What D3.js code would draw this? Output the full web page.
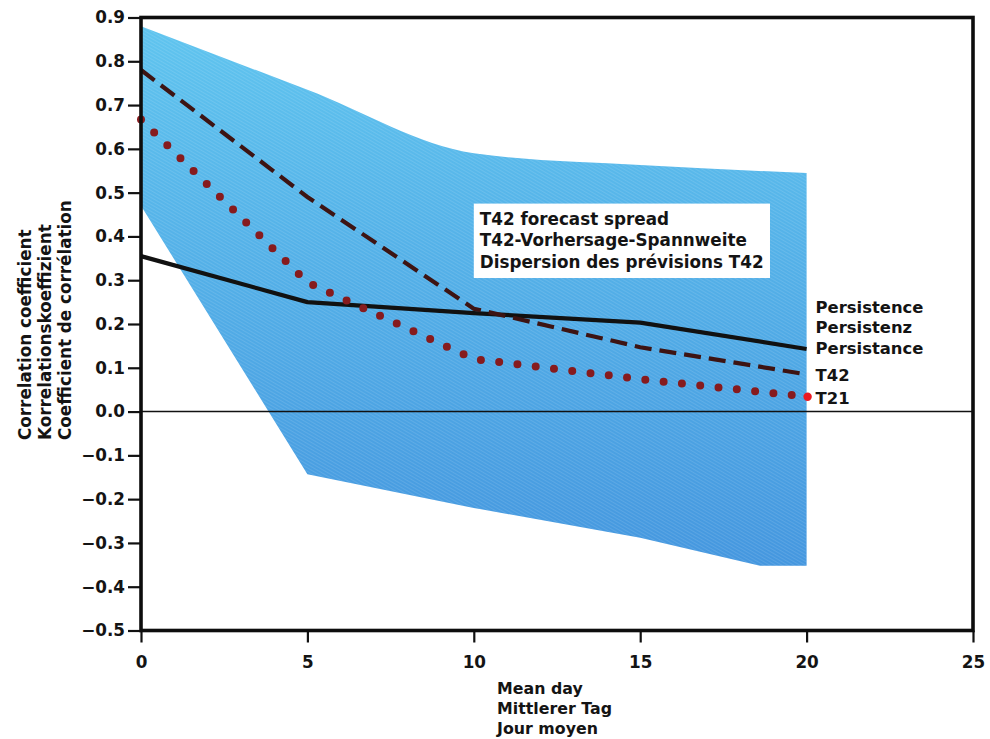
<!DOCTYPE html>
<html>
<head>
<meta charset="utf-8">
<script src="https://cdn.jsdelivr.net/npm/d3@7"></script>
<style>
  html, body { margin: 0; padding: 0; background: #ffffff; }
  svg { display: block; }
  text { font-family: "DejaVu Sans", "Liberation Sans", Arial, sans-serif; font-weight: bold; fill: #141414; }
</style>
</head>
<body>
<svg id="chart" width="990" height="739"></svg>
<script>
// Mean forecast day
const days = [0, 5, 10, 15, 20];
// Correlation coefficient per model
const persistence = [0.355, 0.25, 0.225, 0.203, 0.143];
const t42 = [0.78, 0.49, 0.235, 0.147, 0.085];
const t21 = [0.667, 0.295, 0.12, 0.074, 0.034];
// T42 forecast spread (upper and lower envelope)
const spreadHighDays = [0, 5, 10, 15, 20];
const spreadHigh = [0.88, 0.735, 0.59, 0.563, 0.545];
const spreadLowDays = [0, 5, 10, 15, 18.6, 20];
const spreadLow = [0.47, -0.143, -0.22, -0.288, -0.352, -0.352];
// Axis ticks and labels
const xTickValues = [0, 5, 10, 15, 20, 25];
const yTickValues = [0.9, 0.8, 0.7, 0.6, 0.5, 0.4, 0.3, 0.2, 0.1, 0.0, -0.1, -0.2, -0.3, -0.4, -0.5];
const xTitle = ["Mean day", "Mittlerer Tag", "Jour moyen"];
const yTitle = ["Correlation coefficient", "Korrelationskoeffizient", "Coefficient de corrélation"];
const spreadLabel = ["T42 forecast spread", "T42-Vorhersage-Spannweite", "Dispersion des prévisions T42"];
const persistenceLabel = ["Persistence", "Persistenz", "Persistance"];

const svg = d3.select("#chart");
const x = d3.scaleLinear().domain([0, 25]).range([141, 973]);
const y = d3.scaleLinear().domain([-0.5, 0.9]).range([630.5, 17.5]);

const defs = svg.append("defs");
const grad = defs.append("linearGradient")
  .attr("id", "spreadFill").attr("gradientUnits", "userSpaceOnUse")
  .attr("x1", 0).attr("y1", y(0.9)).attr("x2", 0).attr("y2", y(-0.35));
grad.append("stop").attr("offset", "0%").attr("stop-color", "#60c5ef");
grad.append("stop").attr("offset", "100%").attr("stop-color", "#4597df");

const hatch = defs.append("pattern")
  .attr("id", "hatch").attr("patternUnits", "userSpaceOnUse")
  .attr("width", 3).attr("height", 3)
  .attr("patternTransform", "rotate(-60)");
hatch.append("line").attr("x1", 0).attr("y1", 0).attr("x2", 0).attr("y2", 3)
  .attr("stroke", "#ffffff").attr("stroke-width", 1).attr("stroke-opacity", 0.22);

// Spread band: smooth upper envelope, straight lower envelope
const upper = spreadHighDays.map((d, i) => [x(d), y(spreadHigh[i])]);
const lower = spreadLowDays.map((d, i) => [x(d), y(spreadLow[i])]).reverse();
const upperPath = d3.line().curve(d3.curveMonotoneX)(upper);
const lowerPath = d3.line()(lower);
const bandPath = upperPath + "L" + lowerPath.slice(1) + "Z";
svg.append("path").attr("d", bandPath).attr("fill", "url(#spreadFill)");
svg.append("path").attr("d", bandPath).attr("fill", "url(#hatch)");

// Zero reference line
svg.append("line")
  .attr("x1", x(0)).attr("x2", x(25)).attr("y1", y(0)).attr("y2", y(0))
  .attr("stroke", "#111").attr("stroke-width", 1.6);

// Legend box for the spread
const box = svg.append("g");
box.append("rect")
  .attr("x", x(10)).attr("y", y(0.475))
  .attr("width", x(18.9) - x(10)).attr("height", y(0.305) - y(0.475))
  .attr("fill", "#ffffff");
box.selectAll("text").data(spreadLabel).join("text")
  .attr("x", x(10) + 6).attr("y", (d, i) => y(0.475) + 21 + i * 21.5)
  .attr("font-size", 16.8).text(d => d);

const pts = arr => days.map((d, i) => [x(d), y(arr[i])]);
const line = d3.line();

// Persistence
svg.append("path").attr("d", line(pts(persistence)))
  .attr("fill", "none").attr("stroke", "#111").attr("stroke-width", 4.2)
  .attr("stroke-linejoin", "round");
// T42 (dashed)
svg.append("path").attr("d", line(pts(t42)))
  .attr("fill", "none").attr("stroke", "#3d1413").attr("stroke-width", 4.2)
  .attr("stroke-dasharray", "17 8");
// T21 (dotted)
svg.append("path").attr("d", line(pts(t21)))
  .attr("fill", "none").attr("stroke", "#861b1e").attr("stroke-width", 8)
  .attr("stroke-linecap", "round").attr("stroke-dasharray", "0 18.4");
svg.append("circle")
  .attr("cx", x(20) + 1).attr("cy", y(t21[4]))
  .attr("r", 4.2).attr("fill", "#ec1820");

// Series labels at the right end
const lx = x(20) + 9;
svg.append("g").selectAll("text").data(persistenceLabel).join("text")
  .attr("x", lx).attr("y", (d, i) => y(persistence[4]) + 5 - (2 - i) * 20.5)
  .attr("font-size", 16.4).text(d => d);
svg.append("text").attr("x", lx).attr("y", y(t42[4]) + 7)
  .attr("font-size", 16.4).text("T42");
svg.append("text").attr("x", lx).attr("y", y(t21[4]) + 7)
  .attr("font-size", 16.4).text("T21");

// Axes
const fmtY = d => (d < 0 ? "\u2212" : "") + Math.abs(d).toFixed(1);
const yAxis = svg.append("g").attr("transform", `translate(${x(0)},0)`)
  .call(d3.axisLeft(y).tickValues(yTickValues).tickSize(13).tickPadding(3).tickFormat(fmtY));
const xAxis = svg.append("g").attr("transform", `translate(0,${y(-0.5)})`)
  .call(d3.axisBottom(x).tickValues(xTickValues).tickSize(12).tickPadding(14).tickFormat(d3.format("d")));
[yAxis, xAxis].forEach(g => {
  g.select(".domain").remove();
  g.selectAll(".tick line").attr("stroke", "#111").attr("stroke-width", 2.2);
  g.selectAll(".tick text").attr("font-size", 16.8).attr("fill", "#141414")
    .attr("font-family", "DejaVu Sans, Liberation Sans, Arial, sans-serif").attr("font-weight", "bold");
});

// Plot frame
svg.append("rect")
  .attr("x", x(0)).attr("y", y(0.9))
  .attr("width", x(25) - x(0)).attr("height", y(-0.5) - y(0.9))
  .attr("fill", "none").attr("stroke", "#0d0d0d").attr("stroke-width", 3.6);

// Axis titles
svg.append("g").selectAll("text").data(xTitle).join("text")
  .attr("x", x(10.7)).attr("y", (d, i) => 694 + i * 20)
  .attr("font-size", 15.8).text(d => d);
svg.append("g").selectAll("text").data(yTitle).join("text")
  .attr("transform", (d, i) => `translate(${31 + i * 20},440) rotate(-90)`)
  .attr("font-size", 16.8).text(d => d);
</script>
</body>
</html>
